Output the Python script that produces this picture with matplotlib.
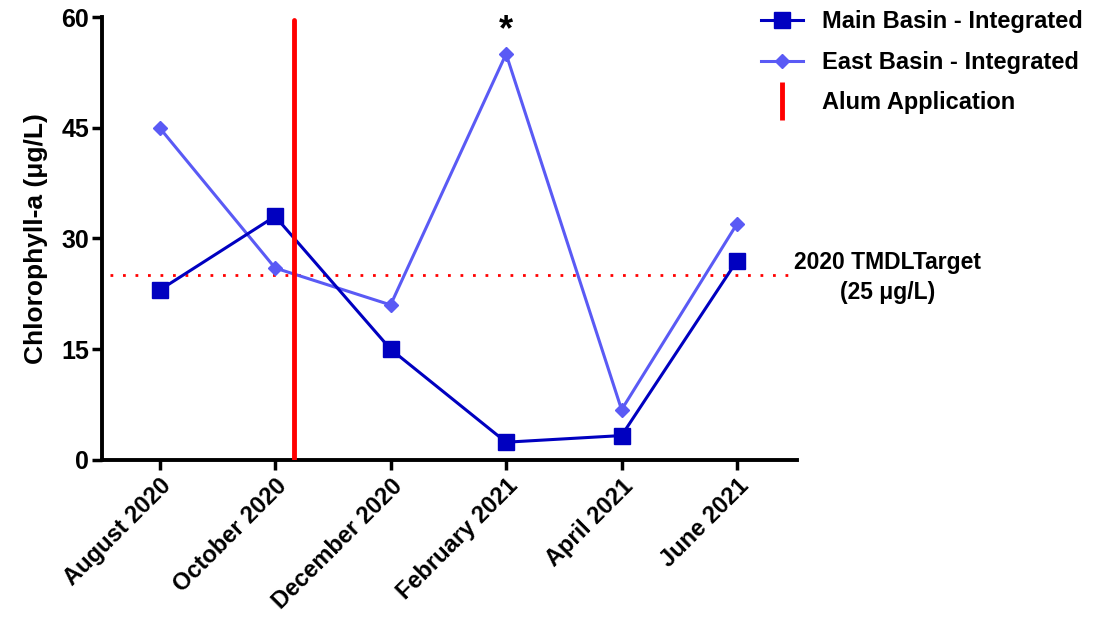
import matplotlib.pyplot as plt
from matplotlib.lines import Line2D

plt.rcParams['font.family'] = ['Liberation Sans', 'DejaVu Sans']
plt.rcParams['font.weight'] = 'bold'

# Muestreos bimestrales
meses = ['August 2020', 'October 2020', 'December 2020',
         'February 2021', 'April 2021', 'June 2021']
main_basin = [23, 33, 15, 2.4, 3.3, 27]
east_basin = [45, 26, 21, 55, 6.8, 32]
meta_tmdl = 25
aplicacion_alum = 1.16  # entre octubre y diciembre

x = list(range(len(meses)))

fig = plt.figure(figsize=(10.95, 6.19), dpi=100)
ax = fig.add_axes([0.093, 0.257, 0.635, 0.7155])

ax.plot(x, main_basin, color='#0000C0', lw=2.2, marker='s', ms=11,
        label='Main Basin - Integrated', zorder=4)
ax.plot(x, east_basin, color='#5A5AF5', lw=2.2, marker='D', ms=7,
        label='East Basin - Integrated', zorder=3)
ax.plot([aplicacion_alum, aplicacion_alum], [0, 59.6], color='#FF0000', lw=3.5,
        solid_capstyle='round', zorder=5)
ax.plot([-0.43, 5.45], [meta_tmdl, meta_tmdl], color='#FF0000', lw=2,
        linestyle=(0, (1, 3.5)), zorder=2)

# Diferencia significativa en febrero
ax.text(3, 58.2, '*', ha='center', va='center', fontsize=26, fontweight='bold')

ax.text(6.3, meta_tmdl - 0.3, '2020 TMDLTarget\n(25 \u03bcg/L)', ha='center', va='center',
        fontsize=16.5, fontweight='bold', clip_on=False, linespacing=1.4)

ax.set_xlim(-0.5, 5.52)
ax.set_ylim(0, 60)
ax.set_yticks([0, 15, 30, 45, 60])
ax.set_xticks(x)
ax.set_xticklabels(meses, rotation=45, ha='right', rotation_mode='anchor')
ax.tick_params(axis='both', width=2.5, length=7, direction='out')
ax.tick_params(axis='y', labelsize=18, pad=2)
ax.tick_params(axis='x', labelsize=17)
for lbl in ax.get_xticklabels() + ax.get_yticklabels():
    lbl.set_fontweight('bold')
ax.set_ylabel('Chlorophyll-a (\u03bcg/L)', fontsize=19, fontweight='bold', labelpad=10)

for lado in ['top', 'right']:
    ax.spines[lado].set_visible(False)
for lado in ['left', 'bottom']:
    ax.spines[lado].set_linewidth(2.8)

handles = [
    Line2D([], [], color='#0000C0', lw=2.2, marker='s', ms=11),
    Line2D([], [], color='#5A5AF5', lw=2.2, marker='D', ms=7),
    Line2D([], [], color='#FF0000', marker='|', ms=28, mew=3.5, linestyle='none'),
]
fig.legend(handles, ['Main Basin - Integrated', 'East Basin - Integrated', 'Alum Application'],
           loc='upper left', bbox_to_anchor=(0.682, 1.006), frameon=False,
           prop={'size': 17, 'weight': 'bold'}, handlelength=1.8, labelspacing=0.74,
           handletextpad=0.8, borderaxespad=0.2)

fig.savefig('out.png', dpi=100)
